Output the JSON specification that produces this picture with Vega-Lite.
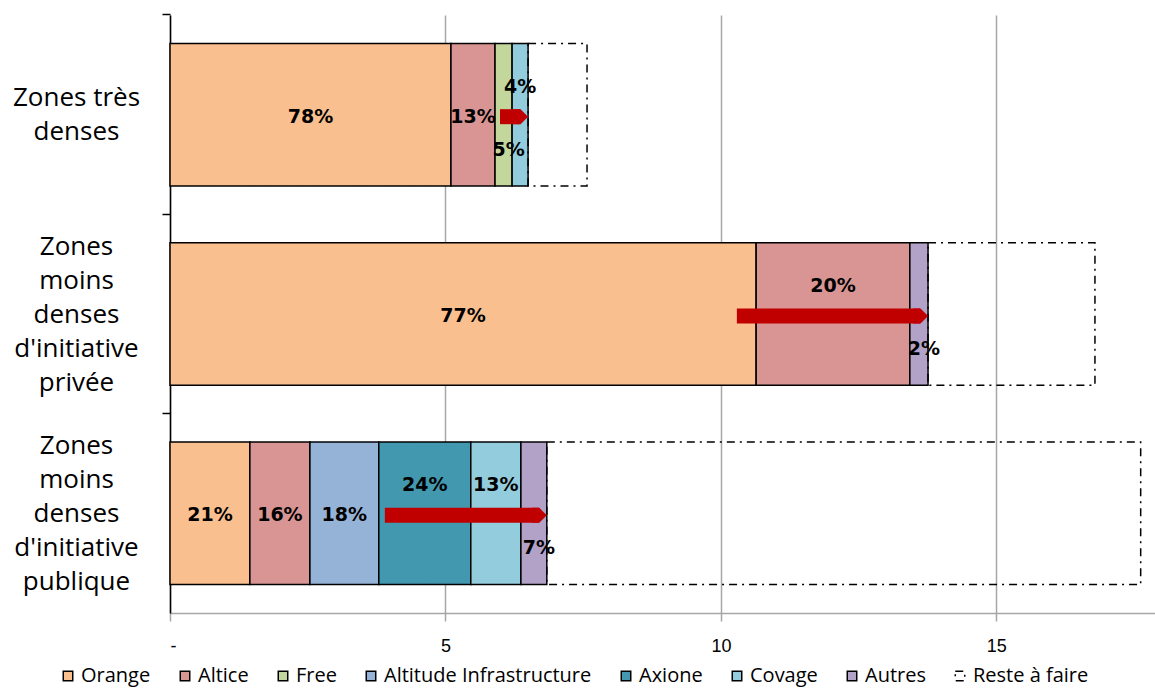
{
  "$schema": "https://vega.github.io/schema/vega-lite/v6.json",
  "width": 985,
  "height": 598,
  "autosize": "none",
  "padding": {"left": 170, "top": 15, "right": 0, "bottom": 76},
  "background": "white",
  "config": {"view": {"stroke": null}},
  "datasets": {
    "parts": [
      {"zone": "Zones très denses", "op": "Orange", "ordre": 1, "val": 5.10, "pct": "78%"},
      {"zone": "Zones très denses", "op": "Altice", "ordre": 2, "val": 0.80, "pct": "13%"},
      {"zone": "Zones très denses", "op": "Free", "ordre": 3, "val": 0.31, "pct": "5%"},
      {"zone": "Zones très denses", "op": "Covage", "ordre": 6, "val": 0.29, "pct": "4%"},
      {"zone": "Zones très denses", "op": "Reste à faire", "ordre": 8, "val": 1.07, "pct": null},
      {"zone": "Zones moins denses d'initiative privée", "op": "Orange", "ordre": 1, "val": 10.64, "pct": "77%"},
      {"zone": "Zones moins denses d'initiative privée", "op": "Altice", "ordre": 2, "val": 2.79, "pct": "20%"},
      {"zone": "Zones moins denses d'initiative privée", "op": "Autres", "ordre": 7, "val": 0.33, "pct": "2%"},
      {"zone": "Zones moins denses d'initiative privée", "op": "Reste à faire", "ordre": 8, "val": 3.03, "pct": null},
      {"zone": "Zones moins denses d'initiative publique", "op": "Orange", "ordre": 1, "val": 1.45, "pct": "21%"},
      {"zone": "Zones moins denses d'initiative publique", "op": "Altice", "ordre": 2, "val": 1.09, "pct": "16%"},
      {"zone": "Zones moins denses d'initiative publique", "op": "Altitude Infrastructure", "ordre": 4, "val": 1.25, "pct": "18%"},
      {"zone": "Zones moins denses d'initiative publique", "op": "Axione", "ordre": 5, "val": 1.67, "pct": "24%"},
      {"zone": "Zones moins denses d'initiative publique", "op": "Covage", "ordre": 6, "val": 0.91, "pct": "13%"},
      {"zone": "Zones moins denses d'initiative publique", "op": "Autres", "ordre": 7, "val": 0.47, "pct": "7%"},
      {"zone": "Zones moins denses d'initiative publique", "op": "Reste à faire", "ordre": 8, "val": 10.78, "pct": null}
    ],
    "arrows": [
      {"zone": "Zones très denses", "from": 5.99, "to": 6.50},
      {"zone": "Zones moins denses d'initiative privée", "from": 10.29, "to": 13.76},
      {"zone": "Zones moins denses d'initiative publique", "from": 3.90, "to": 6.84}
    ]
  },
  "resolve": {"axis": {"y": "independent"}},
  "layer": [
    {
      "data": {"name": "parts"},
      "transform": [
        {"stack": "val", "groupby": ["zone"], "sort": [{"field": "ordre"}], "as": ["v0", "v1"]}
      ],
      "mark": {"type": "bar", "stroke": "black", "strokeWidth": 1.5},
      "encoding": {
        "y": {
          "field": "zone", "type": "nominal",
          "sort": ["Zones très denses", "Zones moins denses d'initiative privée", "Zones moins denses d'initiative publique"],
          "scale": {"paddingInner": 0.285, "paddingOuter": 0.1425},
          "axis": {
            "title": null,
            "orient": "left",
            "values": ["Zones très denses"],
            "labelExpr": "['Zones très','denses']",
            "labelAlign": "center",
            "labelBaseline": "middle",
            "labelFont": "Open Sans",
            "labelFontSize": 26,
            "labelLineHeight": 34,
            "labelColor": "black",
            "labelPadding": 94,
            "labelOffset": -17,
            "labelLimit": 0,
            "labelOverlap": false,
            "ticks": false,
            "domainColor": "black",
            "domainWidth": 1.5
          }
        },
        "x": {
          "field": "v0", "type": "quantitative",
          "scale": {"domain": [0, 17.88], "nice": false},
          "axis": {
            "title": null,
            "values": [0, 5, 10, 15],
            "labelExpr": "datum.value == 0 ? '-' : datum.label",
            "grid": true,
            "gridColor": "#A6A6A6",
            "gridWidth": 1.5,
            "tickColor": "#A6A6A6",
            "tickWidth": 1.5,
            "tickSize": 8,
            "domainColor": "#A6A6A6",
            "domainWidth": 1.5,
            "labelFont": "Liberation Sans",
            "labelFontSize": 18,
            "labelColor": "black",
            "labelPadding": 16
          }
        },
        "x2": {"field": "v1"},
        "color": {
          "field": "op", "type": "nominal",
          "scale": {
            "domain": ["Orange", "Altice", "Free", "Altitude Infrastructure", "Axione", "Covage", "Autres", "Reste à faire"],
            "range": ["#F9BF8F", "#D99594", "#C3D69B", "#95B3D7", "#4198AF", "#93CDDD", "#B2A2C7", "transparent"]
          },
          "legend": {
            "title": null,
            "orient": "none",
            "legendX": -112,
            "legendY": 651,
            "direction": "horizontal",
            "symbolType": "square",
            "symbolSize": 90,
            "labelFont": "Open Sans",
            "labelFontSize": 20,
            "labelColor": "black",
            "columnPadding": 24,
            "labelOffset": 3,
            "labelLimit": 0,
            "encode": {"symbols": {"update": {"stroke": {"value": "black"}, "strokeWidth": {"value": 1.5}}}}
          }
        },
        "strokeDash": {
          "field": "op", "type": "nominal",
          "scale": {
            "domain": ["Orange", "Altice", "Free", "Altitude Infrastructure", "Axione", "Covage", "Autres", "Reste à faire"],
            "range": [[1, 0], [1, 0], [1, 0], [1, 0], [1, 0], [1, 0], [1, 0], [8, 5, 2, 5]]
          },
          "legend": {
            "title": null,
            "orient": "none",
            "legendX": -112,
            "legendY": 651,
            "direction": "horizontal",
            "symbolType": "square",
            "symbolSize": 90,
            "labelFont": "Open Sans",
            "labelFontSize": 20,
            "labelColor": "black",
            "columnPadding": 24,
            "labelOffset": 3,
            "labelLimit": 0,
            "encode": {"symbols": {"update": {"stroke": {"value": "black"}, "strokeWidth": {"value": 1.5}}}}
          }
        }
      }
    },
    {
      "data": {"name": "parts"},
      "transform": [
        {"stack": "val", "groupby": ["zone"], "sort": [{"field": "ordre"}], "as": ["v0", "v1"]},
        {"calculate": "(datum.v0 + datum.v1) / 2", "as": "mid"},
        {"filter": "datum.pct != null && !((indexof(datum.zone,'très')>=0 && datum.op=='Covage') || (indexof(datum.zone,'privée')>=0 && datum.op=='Altice') || (indexof(datum.zone,'publique')>=0 && (datum.op=='Axione' || datum.op=='Covage'))) && !((indexof(datum.zone,'très')>=0 && datum.op=='Free') || datum.op=='Autres')"}
      ],
      "mark": {"type": "text", "font": "DejaVu Sans", "fontWeight": "bold", "fontSize": 19, "color": "black", "dy": 2},
      "encoding": {
        "y": {
          "field": "zone", "type": "nominal",
          "sort": ["Zones très denses", "Zones moins denses d'initiative privée", "Zones moins denses d'initiative publique"],
          "axis": {
            "title": null,
            "orient": "left",
            "values": ["Zones moins denses d'initiative privée", "Zones moins denses d'initiative publique"],
            "labelExpr": "split(datum.value,' ')",
            "labelAlign": "center",
            "labelBaseline": "middle",
            "labelFont": "Open Sans",
            "labelFontSize": 26,
            "labelLineHeight": 34,
            "labelColor": "black",
            "labelPadding": 94,
            "labelOffset": -67,
            "labelLimit": 0,
            "labelOverlap": false,
            "ticks": false,
            "domain": false
          }
        },
        "x": {"field": "mid", "type": "quantitative"},
        "text": {"field": "pct"}
      }
    },
    {
      "data": {"name": "parts"},
      "transform": [
        {"stack": "val", "groupby": ["zone"], "sort": [{"field": "ordre"}], "as": ["v0", "v1"]},
        {"calculate": "(datum.v0 + datum.v1) / 2", "as": "mid"},
        {"filter": "(indexof(datum.zone,'très')>=0 && datum.op=='Covage') || (indexof(datum.zone,'privée')>=0 && datum.op=='Altice') || (indexof(datum.zone,'publique')>=0 && (datum.op=='Axione' || datum.op=='Covage'))"}
      ],
      "mark": {"type": "text", "font": "DejaVu Sans", "fontWeight": "bold", "fontSize": 19, "color": "black", "dy": -28},
      "encoding": {
        "y": {"field": "zone", "type": "nominal", "sort": ["Zones très denses", "Zones moins denses d'initiative privée", "Zones moins denses d'initiative publique"], "axis": null},
        "x": {"field": "mid", "type": "quantitative"},
        "text": {"field": "pct"}
      }
    },
    {
      "data": {"name": "parts"},
      "transform": [
        {"stack": "val", "groupby": ["zone"], "sort": [{"field": "ordre"}], "as": ["v0", "v1"]},
        {"calculate": "(datum.v0 + datum.v1) / 2", "as": "mid"},
        {"filter": "(indexof(datum.zone,'très')>=0 && datum.op=='Free') || datum.op=='Autres'"}
      ],
      "mark": {"type": "text", "font": "DejaVu Sans", "fontWeight": "bold", "fontSize": 19, "color": "black", "dy": 35, "dx": 5},
      "encoding": {
        "y": {"field": "zone", "type": "nominal", "sort": ["Zones très denses", "Zones moins denses d'initiative privée", "Zones moins denses d'initiative publique"], "axis": null},
        "x": {"field": "mid", "type": "quantitative"},
        "text": {"field": "pct"}
      }
    },
    {
      "data": {"name": "arrows"},
      "mark": {"type": "rule", "color": "#C00000", "strokeWidth": 15, "strokeCap": "butt", "yOffset": 2, "x2Offset": -8},
      "encoding": {
        "y": {
          "field": "zone", "type": "nominal",
          "sort": ["Zones très denses", "Zones moins denses d'initiative privée", "Zones moins denses d'initiative publique"],
          "axis": {
            "title": null,
            "orient": "left",
            "labels": false,
            "domain": false,
            "ticks": true,
            "bandPosition": -0.2,
            "tickSize": 8,
            "tickColor": "black",
            "tickWidth": 1.5
          }
        },
        "x": {"field": "from", "type": "quantitative"},
        "x2": {"field": "to"}
      }
    },
    {
      "data": {"name": "arrows"},
      "mark": {"type": "point", "shape": "M -1 -1 L 0 -1 L 1 0 L 0 1 L -1 1 Z", "filled": true, "color": "#C00000", "opacity": 1, "size": 225, "strokeWidth": 0, "yOffset": 2, "xOffset": -7.5},
      "encoding": {
        "y": {"field": "zone", "type": "nominal", "sort": ["Zones très denses", "Zones moins denses d'initiative privée", "Zones moins denses d'initiative publique"], "axis": null},
        "x": {"field": "to", "type": "quantitative"}
      }
    }
  ]
}
